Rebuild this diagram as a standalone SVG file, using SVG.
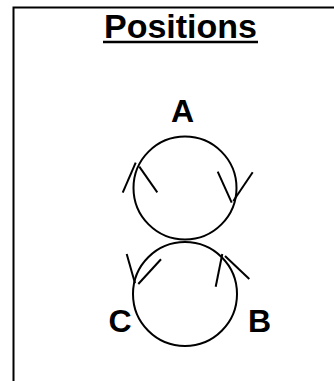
<svg xmlns="http://www.w3.org/2000/svg" width="334" height="381" viewBox="0 0 334 381">
<style>
.lbl{font-family:"Liberation Sans",Arial,sans-serif;font-weight:bold;fill:#000}
.ln{stroke:#000;stroke-width:2;fill:none;stroke-linecap:butt}
</style>
<rect width="334" height="381" fill="#fff"/>
<g id="frame"><path class="ln" d="M13.5,381 V7.5 H334"/></g>
<g id="title">
<text class="lbl" x="180.5" y="38" font-size="34" text-anchor="middle">Positions</text>
<line x1="103" y1="42" x2="258" y2="42" stroke="#000" stroke-width="2.5"/>
</g>
<g id="circleA"><circle class="ln" cx="185" cy="188" r="51.5"/></g>
<g id="circleB"><circle class="ln" cx="185" cy="294" r="52"/></g>
<g id="connectors">
<line class="ln" x1="122.7" y1="192.7" x2="135.7" y2="162.7"/>
<line class="ln" x1="139.3" y1="166.7" x2="157.3" y2="192.3"/>
<line class="ln" x1="217.7" y1="171.7" x2="231.7" y2="202.7"/>
<line class="ln" x1="233.3" y1="201" x2="252.7" y2="172.3"/>
<line class="ln" x1="126.7" y1="254" x2="135" y2="283.3"/>
<line class="ln" x1="138.3" y1="284" x2="161" y2="259.3"/>
<line class="ln" x1="215.7" y1="286.7" x2="222.3" y2="254"/>
<line class="ln" x1="225" y1="256" x2="249.3" y2="279"/>
</g>
<g id="labelA"><text class="lbl" x="182.5" y="122" font-size="32" text-anchor="middle">A</text></g>
<g id="labelC"><text class="lbl" x="120" y="332" font-size="32" text-anchor="middle">C</text></g>
<g id="labelB"><text class="lbl" x="259.5" y="332" font-size="32" text-anchor="middle">B</text></g>
</svg>
